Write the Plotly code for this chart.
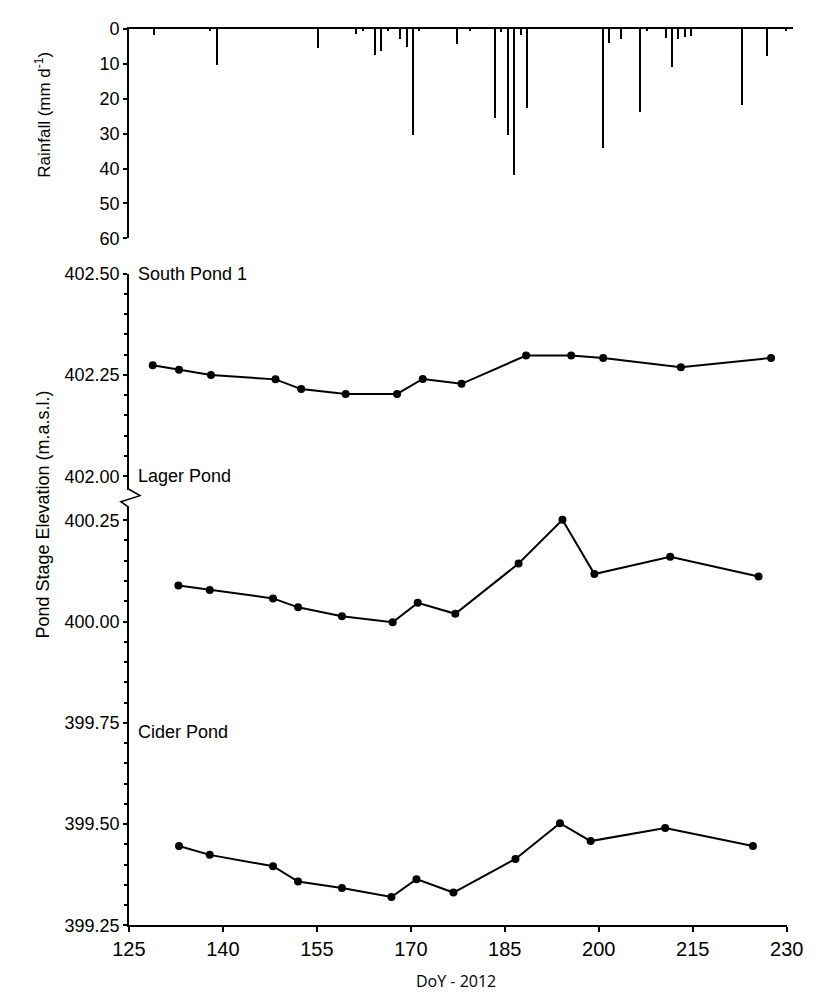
import plotly.graph_objects as go

# ---------------- data ----------------
rain_doy = [129.0, 138.0, 139.0, 155.2, 161.2, 162.3, 164.2, 165.3, 166.3, 168.3, 169.3, 170.4,
            171.3, 177.4, 179.4, 183.4, 184.4, 185.5, 186.5, 187.5, 188.5,
            200.6, 201.6, 203.6, 206.6, 207.7, 210.7, 211.7, 212.7, 213.7, 214.7,
            222.8, 226.8, 229.8]
rain_mm = [1.8, 0.3, 10.3, 5.5, 1.5, 0.3, 7.5, 6.3, 0.3, 2.8, 5.3, 30.5,
           0.3, 4.4, 0.3, 25.5, 0.9, 30.5, 42.0, 1.7, 22.7,
           34.0, 4.0, 3.0, 23.8, 0.4, 2.6, 11.0, 2.8, 2.3, 1.9,
           21.8, 7.8, 0.3]

south_doy = [128.8, 133.0, 138.1, 148.4, 152.5, 159.6, 167.8, 171.9, 178.1, 188.4, 195.6, 200.7, 213.1, 227.5]
south_elev = [402.274, 402.263, 402.250, 402.239, 402.215, 402.203, 402.203, 402.240, 402.228,
              402.298, 402.298, 402.292, 402.269, 402.292]

lager_doy = [132.9, 137.9, 148.0, 152.0, 159.0, 167.1, 171.1, 177.1, 187.2, 194.2, 199.3, 211.4, 225.5]
lager_elev = [400.089, 400.078, 400.057, 400.035, 400.013, 399.998, 400.046, 400.019,
              400.143, 400.251, 400.117, 400.160, 400.111]

cider_doy = [133.0, 137.9, 148.0, 152.0, 159.0, 166.9, 170.9, 176.8, 186.7, 193.8, 198.7, 210.6, 224.6]
cider_elev = [399.446, 399.424, 399.396, 399.358, 399.342, 399.320, 399.364, 399.331,
              399.414, 399.502, 399.458, 399.490, 399.446]

x_ticks = [125, 140, 155, 170, 185, 200, 215, 230]
rain_ticks = [0, 10, 20, 30, 40, 50, 60]
upper_ticks = [402.00, 402.25, 402.50]
lower_ticks = [399.25, 399.50, 399.75, 400.00, 400.25]

# ---------------- layout helpers ----------------
W, H = 828, 1002
def px(x):
    return x / W
def py(y):
    return 1 - y / H

FONT = "Arial, Liberation Sans, Helvetica, sans-serif"
PPU = 413.4  # pixels per metre of elevation

x_left, x_right = 116.7, 802.7
upper_top, upper_bot = 269.0, 490.0
lower_top, lower_bot = 507.0, 934.0

fig = go.Figure()

fig.add_trace(go.Bar(x=rain_doy, y=rain_mm, width=0.32, marker=dict(color="black", line=dict(width=0)),
                     xaxis="x2", yaxis="y", showlegend=False))

line_style = dict(color="black", width=2)
marker_style = dict(color="black", size=8)
fig.add_trace(go.Scatter(x=south_doy, y=south_elev, mode="lines+markers", line=line_style,
                         marker=marker_style, xaxis="x", yaxis="y3", showlegend=False))
fig.add_trace(go.Scatter(x=lager_doy, y=lager_elev, mode="lines+markers", line=line_style,
                         marker=marker_style, xaxis="x", yaxis="y2", showlegend=False))
fig.add_trace(go.Scatter(x=cider_doy, y=cider_elev, mode="lines+markers", line=line_style,
                         marker=marker_style, xaxis="x", yaxis="y2", showlegend=False))

axis_common = dict(showline=True, linecolor="black", linewidth=1.5, showgrid=False, zeroline=False,
                   ticks="outside", tickcolor="black", tickwidth=1.5)

fig.update_layout(
    width=W, height=H,
    margin=dict(l=0, r=0, t=0, b=0),
    paper_bgcolor="white", plot_bgcolor="white",
    font=dict(family=FONT, color="black"),
    bargap=0,
    xaxis=dict(**axis_common, domain=[px(x_left), px(x_right)], range=[125, 230],
               tickvals=x_ticks, ticklen=5, anchor="y2",
               tickfont=dict(size=20, family=FONT)),
    xaxis2=dict(showline=True, linecolor="black", linewidth=2, showgrid=False, zeroline=False,
                domain=[px(x_left), px(809)], range=[125, 125 + (809 - x_left) / ((x_right - x_left) / 105)],
                anchor="y", side="top", showticklabels=False, ticks=""),
    yaxis=dict(**axis_common, domain=[py(233), py(19.5)], range=[60, 0], anchor="x2",
               tickvals=rain_ticks, ticklen=4,
               tickfont=dict(size=18, family=FONT)),
    yaxis3=dict(**axis_common, domain=[py(upper_bot), py(upper_top)],
                range=[402.5 - (upper_bot - upper_top) / PPU, 402.5], anchor="x",
                tickvals=upper_ticks, ticktext=["402.00", "402.25", "402.50"], ticklen=4,
                minor=dict(dtick=0.05, tick0=402.0, ticks="outside", ticklen=3, tickcolor="black", tickwidth=1.5),
                tickfont=dict(size=18, family=FONT)),
    yaxis2=dict(**axis_common, domain=[py(lower_bot), py(lower_top)],
                range=[399.25, 399.25 + (lower_bot - lower_top) / PPU], anchor="x",
                tickvals=lower_ticks, ticktext=["399.25", "399.50", "399.75", "400.00", "400.25"], ticklen=4,
                minor=dict(dtick=0.05, tick0=399.25, ticks="outside", ticklen=3, tickcolor="black", tickwidth=1.5),
                tickfont=dict(size=18, family=FONT)),
)

# axis break zig-zag
zz = [(x_left, 489), (128.3, 495.5), (108.3, 501.7), (x_left, 507.5)]
path = "M " + " L ".join(f"{px(a)},{py(b)}" for a, b in zz)
fig.add_shape(type="path", path=path, xref="paper", yref="paper",
              line=dict(color="black", width=1.5))

annots = [
    dict(text="South Pond 1", x=px(124), y=py(269), xanchor="left", yanchor="middle"),
    dict(text="Lager Pond", x=px(124), y=py(475), xanchor="left", yanchor="middle"),
    dict(text="Cider Pond", x=px(124), y=py(737), xanchor="left", yanchor="middle"),
]
for a in annots:
    fig.add_annotation(**a, xref="paper", yref="paper", showarrow=False,
                       font=dict(size=18, family=FONT, color="black"))

fig.add_annotation(text="Rainfall (mm d<sup>-1</sup>)", x=px(27), y=py(107), xref="paper", yref="paper",
                   textangle=-90, showarrow=False, xanchor="center", yanchor="middle",
                   font=dict(size=17, family=FONT, color="black"))
fig.add_annotation(text="Pond Stage Elevation (m.a.s.l.)", x=px(27), y=py(515), xref="paper", yref="paper",
                   textangle=-90, showarrow=False, xanchor="center", yanchor="middle",
                   font=dict(size=18, family=FONT, color="black"))
fig.add_annotation(text="DoY - 2012", x=px(457.7), y=py(991), xref="paper", yref="paper",
                   showarrow=False, xanchor="center", yanchor="middle",
                   font=dict(size=16, family="Open Sans, sans-serif", color="black"))

fig.write_html("out.html")
